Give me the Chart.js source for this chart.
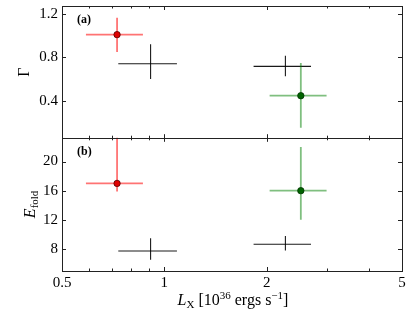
<!DOCTYPE html>
<html><head><meta charset="utf-8">
<script src="https://cdn.jsdelivr.net/npm/chart.js@4"></script>
<style>
html,body{margin:0;padding:0;background:#fff;width:415px;height:312px;overflow:hidden}
#wrap{position:relative;width:415px;height:312px}
canvas{position:absolute;left:0}
#c1{top:0;width:415px;height:143px}
#c2{top:133px;width:415px;height:179px}
</style></head><body>
<div id="wrap"><canvas id="c1" width="415" height="143"></canvas><canvas id="c2" width="415" height="179"></canvas></div>
<script>
// ---- data ----
const groups   = ['red', 'black1', 'black2', 'green'];
const lx       = [0.726, 0.911, 2.27, 2.52];
const lxLo     = [0.588, 0.732, 1.83, 2.04];
const lxHi     = [0.865, 1.089, 2.70, 3.00];
const gamma    = [1.008, 0.742, 0.717, 0.449];
const gammaLo  = [0.848, 0.601, 0.626, 0.156];
const gammaHi  = [1.163, 0.919, 0.815, 0.748];
const efold    = [17.0, 7.72, 8.65, 16.0];
const efoldLo  = [15.9, 6.53, 7.77, 12.0];
const efoldHi  = [25.0, 9.48, 9.79, 22.0];
const lxTicks      = [0.5, 1, 2, 5];
const lxMinorTicks = [0.6, 0.7, 0.8, 0.9, 3, 4];
const gammaTicks   = [0.4, 0.8, 1.2];
const efoldTicks   = [8, 12, 16, 20];

// ---- styles ----
const errColor  = ['rgba(255,0,0,0.55)', 'rgba(0,0,0,0.9)', 'rgba(0,0,0,0.9)', 'rgba(0,128,0,0.5)'];
const errWidth  = [1.8, 1.1, 1.1, 1.8];
const ptFill    = ['#e00000', 'rgba(0,0,0,0)', 'rgba(0,0,0,0)', '#006400'];
const ptEdge    = ['#550000', 'rgba(0,0,0,0)', 'rgba(0,0,0,0)', '#003300'];
const ptRadius  = [3.2, 0, 0, 3.2];
const SERIF = '"Liberation Serif", "DejaVu Serif", serif';

function errorBars(vals, lo, hi) {
  return {
    id: 'errorBars',
    beforeDatasetsDraw(chart) {
      const {ctx, chartArea: a, scales: {x, y}} = chart;
      ctx.save();
      ctx.beginPath(); ctx.rect(a.left, a.top, a.right - a.left, a.bottom - a.top); ctx.clip();
      groups.forEach((g, i) => {
        ctx.strokeStyle = errColor[i]; ctx.lineWidth = errWidth[i];
        const px = x.getPixelForValue(lx[i]), py = y.getPixelForValue(vals[i]);
        ctx.beginPath();
        ctx.moveTo(x.getPixelForValue(lxLo[i]), py); ctx.lineTo(x.getPixelForValue(lxHi[i]), py);
        ctx.stroke();
        ctx.beginPath();
        ctx.moveTo(px, y.getPixelForValue(lo[i])); ctx.lineTo(px, y.getPixelForValue(hi[i]));
        ctx.stroke();
      });
      ctx.restore();
    }
  };
}

function frame(yTicks, panelLabel, drawTitles) {
  return {
    id: 'frameTicks',
    afterDraw(chart) {
      const {ctx, chartArea: a, scales: {x, y}} = chart;
      ctx.save();
      ctx.strokeStyle = '#222'; ctx.lineWidth = 1;
      ctx.strokeRect(Math.round(a.left) + 0.5, Math.round(a.top) + 0.5, Math.round(a.right - a.left), Math.round(a.bottom - a.top));
      ctx.beginPath();
      const xt = (v, len) => {
        const p = Math.round(x.getPixelForValue(v)) + 0.5;
        ctx.moveTo(p, a.top); ctx.lineTo(p, a.top + len);
        ctx.moveTo(p, a.bottom); ctx.lineTo(p, a.bottom - len);
      };
      lxTicks.forEach(v => xt(v, 4));
      lxMinorTicks.forEach(v => xt(v, 2.5));
      yTicks.forEach(v => {
        const p = Math.round(y.getPixelForValue(v)) + 0.5;
        ctx.moveTo(a.left, p); ctx.lineTo(a.left + 4, p);
        ctx.moveTo(a.right, p); ctx.lineTo(a.right - 4, p);
      });
      ctx.stroke();
      // panel label
      ctx.fillStyle = '#000';
      ctx.font = 'bold 12px ' + SERIF;
      ctx.textBaseline = 'middle'; ctx.textAlign = 'left';
      ctx.fillText(panelLabel, a.left + 15, a.top + 14);
      drawTitles(ctx, a);
      ctx.restore();
    }
  };
}

function yScale(min, max, ticks) {
  return {
    type: 'linear', min, max,
    grid: {display: false, drawTicks: false},
    border: {display: false},
    afterBuildTicks: s => { s.ticks = ticks.map(v => ({value: v})); },
    afterFit: s => { s.width = 62; s.paddingTop = 0; s.paddingBottom = 0; },
    ticks: {font: {family: SERIF, size: 15}, color: '#000', padding: 4,
            callback: v => String(v)}
  };
}

function dataset(vals) {
  return [{
    data: groups.map((g, i) => ({x: lx[i], y: vals[i]})),
    pointRadius: ptRadius, pointBackgroundColor: ptFill, pointBorderColor: ptEdge,
    pointBorderWidth: 0.8, showLine: false
  }];
}

Chart.defaults.animation = false;

new Chart(document.getElementById('c1'), {
  type: 'scatter',
  data: {datasets: dataset(gamma)},
  options: {
    responsive: false, devicePixelRatio: 1, animation: false,
    layout: {padding: {left: 0, right: 13, top: 6, bottom: 2}},
    plugins: {legend: {display: false}, tooltip: {enabled: false}},
    scales: {
      x: {type: 'logarithmic', min: 0.5, max: 5, display: false},
      y: yScale(0.06, 1.27, gammaTicks)
    }
  },
  plugins: [errorBars(gamma, gammaLo, gammaHi), frame(gammaTicks, '(a)', (ctx, a) => {
    ctx.save();
    ctx.translate(25, (a.top + a.bottom) / 2);
    ctx.rotate(-Math.PI / 2);
    ctx.font = '16px ' + SERIF; ctx.textAlign = 'center'; ctx.textBaseline = 'middle';
    ctx.fillText('Γ', 0, 0);
    ctx.restore();
  })]
});

function drawRuns(ctx, runs, cx, baseline) {
  let w = 0;
  runs.forEach(r => { ctx.font = r.font; w += ctx.measureText(r.t).width; });
  let xx = cx - w / 2;
  ctx.textAlign = 'left'; ctx.textBaseline = 'alphabetic';
  runs.forEach(r => { ctx.font = r.font; ctx.fillText(r.t, xx, baseline + (r.dy || 0)); xx += ctx.measureText(r.t).width; });
}

new Chart(document.getElementById('c2'), {
  type: 'scatter',
  data: {datasets: dataset(efold)},
  options: {
    responsive: false, devicePixelRatio: 1, animation: false,
    layout: {padding: {left: 0, right: 13, top: 2, bottom: 0}},
    plugins: {legend: {display: false}, tooltip: {enabled: false}},
    scales: {
      x: {
        type: 'logarithmic', min: 0.5, max: 5,
        grid: {display: false, drawTicks: false},
        border: {display: false},
        afterBuildTicks: s => { s.ticks = lxTicks.map(v => ({value: v})); },
        afterFit: s => { s.height = 41; },
        ticks: {font: {family: SERIF, size: 15}, color: '#000', padding: 3,
                autoSkip: false, maxRotation: 0, callback: v => String(v)}
      },
      y: yScale(4.97, 23.26, efoldTicks)
    }
  },
  plugins: [errorBars(efold, efoldLo, efoldHi), frame(efoldTicks, '(b)', (ctx, a) => {
    ctx.fillStyle = '#000';
    ctx.save();
    ctx.translate(30, (a.top + a.bottom) / 2);
    ctx.rotate(-Math.PI / 2);
    drawRuns(ctx, [
      {t: 'E', font: 'italic 16px ' + SERIF},
      {t: 'fold', font: '11px ' + SERIF, dy: 3}
    ], 0, 5);
    ctx.restore();
    const h = chart => 0;
    drawRuns(ctx, [
      {t: 'L', font: 'italic 16px ' + SERIF},
      {t: 'X', font: '11px ' + SERIF, dy: 3},
      {t: ' [10', font: '16px ' + SERIF},
      {t: '36', font: '11px ' + SERIF, dy: -6},
      {t: ' ergs s', font: '16px ' + SERIF},
      {t: '\u22121', font: '11px ' + SERIF, dy: -6},
      {t: ']', font: '16px ' + SERIF}
    ], 233, a.bottom + 34);
  })]
});
</script>
</body></html>
